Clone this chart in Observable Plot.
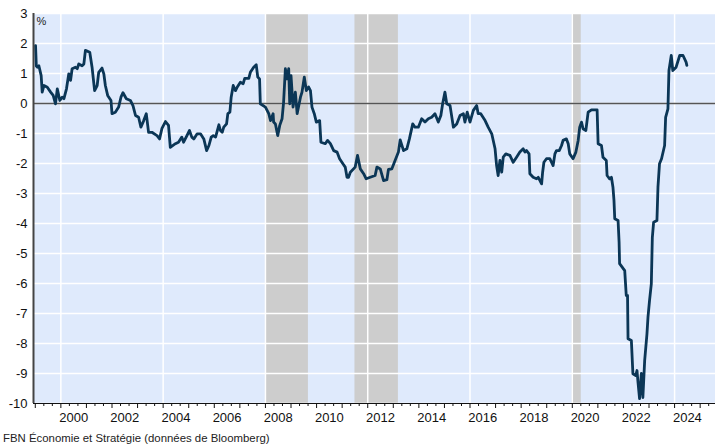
<!DOCTYPE html>
<html>
<head>
<meta charset="utf-8">
<script src="https://cdn.jsdelivr.net/npm/d3@7"></script>
<script src="https://cdn.jsdelivr.net/npm/@observablehq/plot@0.6"></script>
<style>
  html, body { margin: 0; padding: 0; background: #fff; }
  #chart { width: 715px; }
  .caption { font-family: Arial, "Liberation Sans", sans-serif; font-size: 11.4px; line-height: 16px; color: #222; padding-left: 3px; }
</style>
</head>
<body>
<div id="chart"></div>
<div class="caption">FBN Économie et Stratégie (données de Bloomberg)</div>
<script>
const years = [1999.01,1999.04,1999.08,1999.14,1999.23,1999.27,1999.34,1999.47,1999.60,1999.70,1999.79,1999.86,1999.96,2000.05,2000.12,2000.22,2000.31,2000.38,2000.44,2000.57,2000.64,2000.70,2000.83,2000.90,2000.96,2001.13,2001.22,2001.32,2001.42,2001.48,2001.61,2001.68,2001.74,2001.83,2001.96,2002.00,2002.13,2002.26,2002.35,2002.43,2002.56,2002.72,2002.82,2002.92,2003.04,2003.13,2003.24,2003.34,2003.43,2003.56,2003.76,2003.86,2003.95,2004.09,2004.21,2004.28,2004.48,2004.60,2004.73,2004.80,2004.93,2005.03,2005.12,
2005.20,2005.33,2005.46,2005.59,2005.70,2005.79,2005.88,2005.96,2006.05,2006.18,2006.24,2006.31,2006.37,2006.48,2006.53,2006.61,2006.66,2006.74,2006.83,2006.90,2007.02,2007.13,2007.19,2007.35,2007.41,2007.54,2007.64,2007.70,2007.77,2007.80,2008.00,2008.13,2008.20,2008.30,2008.32,2008.39,2008.48,2008.56,2008.65,2008.71,2008.78,2008.85,2008.91,2008.95,2009.00,2009.08,2009.17,2009.24,2009.37,2009.43,2009.52,2009.60,2009.69,2009.76,2009.82,2009.91,2009.99,2010.12,2010.17,2010.34,2010.43,2010.54,2010.67,2010.80,2010.90,2011.03,2011.12,2011.19,
2011.25,2011.32,2011.51,2011.60,2011.71,2011.84,2011.94,2012.10,2012.29,2012.36,2012.49,2012.62,2012.75,2012.81,2012.94,2013.07,2013.20,2013.27,2013.40,2013.53,2013.63,2013.76,2013.85,2013.98,2014.11,2014.24,2014.37,2014.50,2014.63,2014.76,2014.86,2014.93,2015.02,2015.09,2015.22,2015.35,2015.48,2015.61,2015.74,2015.80,2015.89,2016.00,2016.13,2016.26,2016.32,2016.42,2016.59,2016.71,2016.85,2016.98,2017.04,2017.10,2017.17,2017.24,2017.30,2017.40,2017.56,2017.69,2017.82,2017.95,2018.08,2018.15,2018.21,2018.31,2018.34,2018.47,2018.60,2018.67,2018.80,2018.84,2018.89,2018.99,2019.12,2019.25,2019.32,2019.38,2019.49,2019.58,2019.64,2019.77,2019.84,2019.90,2020.03,2020.14,2020.23,2020.29,2020.36,2020.42,2020.53,2020.62,2020.75,2020.97,
2021.01,2021.14,2021.20,2021.33,2021.36,2021.46,2021.53,2021.59,2021.63,2021.66,2021.79,2021.83,2021.85,2022.05,2022.11,2022.16,2022.18,2022.31,2022.37,2022.48,2022.53,2022.57,2022.63,2022.70,2022.76,2022.83,2022.92,2022.96,2023.02,2023.09,2023.13,2023.18,2023.31,2023.35,2023.41,2023.49,2023.61,2023.65,2023.74,2023.78,2023.87,2023.93,2024.06,2024.20,2024.33,2024.45,2024.48];
const values = [1.93,1.25,1.21,1.26,0.93,0.38,0.6,0.54,0.38,0.27,-0.01,0.49,0.1,0.21,0.16,0.49,0.99,0.77,1.16,1.21,1.16,1.32,1.26,1.32,1.77,1.71,1.21,0.43,0.6,1.04,1.18,0.99,0.6,0.27,0.1,-0.34,-0.29,-0.12,0.21,0.36,0.16,0.1,-0.07,-0.4,-0.46,-0.79,-0.57,-0.34,-0.96,-0.96,-1.07,-1.18,-0.84,-0.6,-0.73,-1.46,-1.34,-1.29,-1.12,-1.29,-1.07,-0.9,-1.12,
-1.18,-1.01,-1.01,-1.18,-1.57,-1.4,-1.12,-1.07,-1.12,-0.71,-0.9,-0.96,-0.79,-0.68,-0.34,-0.29,0.21,0.6,0.43,0.55,0.71,0.66,0.84,0.84,1.04,1.21,1.29,0.88,0.82,-0.01,-0.12,-0.34,-0.57,-0.34,-0.62,-0.68,-1.07,-0.73,-0.51,0.04,1.16,0.82,1.16,-0.01,0.93,-0.12,0.38,-0.34,0.21,0.38,0.88,0.43,0.55,0.43,-0.12,-0.34,-0.62,-0.57,-1.29,-1.34,-1.23,-1.34,-1.57,-1.62,-1.84,-2.01,-2.12,-2.46,
-2.46,-2.29,-2.12,-1.73,-2.18,-2.34,-2.51,-2.46,-2.4,-2.12,-2.18,-2.57,-2.54,-2.2,-2.18,-1.9,-1.62,-1.21,-1.57,-1.51,-1.18,-0.68,-0.79,-0.79,-0.51,-0.62,-0.51,-0.46,-0.34,-0.62,-0.4,-0.01,0.38,-0.01,-0.07,-0.79,-0.68,-0.4,-0.34,-0.62,-0.29,-0.62,-0.23,-0.07,-0.34,-0.34,-0.57,-0.79,-1.01,-1.51,-2.07,-2.4,-1.9,-2.29,-1.79,-1.68,-1.73,-1.96,-1.79,-1.62,-1.51,-1.62,-1.57,-1.68,-2.34,-2.46,-2.51,-2.46,-2.68,-2.29,-1.96,-1.84,-1.84,-2.07,-1.68,-1.57,-1.57,-1.4,-1.23,-1.18,-1.34,-1.68,-1.84,-1.62,-1.23,-0.79,-0.62,-0.84,-0.9,-0.29,-0.21,-0.21,
-1.34,-1.4,-1.79,-1.9,-2.4,-2.51,-2.46,-2.79,-3.23,-3.84,-3.9,-4.62,-5.34,-5.57,-6.4,-6.4,-7.84,-7.9,-9.01,-9.07,-8.9,-9.3,-9.84,-9.0,-9.8,-8.57,-7.68,-7.12,-6.57,-6.01,-4.46,-3.96,-3.9,-2.79,-2.01,-1.84,-1.4,-0.46,-0.18,1.1,1.6,1.1,1.21,1.6,1.6,1.38,1.27];

// Recession periods (shaded)
const recStart = [2008.0, 2011.5, 2020.0];
const recEnd   = [2009.68, 2013.2, 2020.35];

// Axis definitions
const yTicks = [3,2,1,0,-1,-2,-3,-4,-5,-6,-7,-8,-9,-10];
const gridYears = [2000,2004,2008,2012,2016,2020,2024];
const labelYears = [2000,2002,2004,2006,2008,2010,2012,2014,2016,2018,2020,2022,2024];
const majorTickYears = d3.range(1999, 2026);
const minorTickYears = d3.range(1999, 2025.6, 1/3).filter(t => Math.abs(t - Math.round(t)) > 0.01);

const series = years.map((y, i) => ({year: y, value: values[i]}));
const recessions = recStart.map((s, i) => ({x1: s, x2: recEnd[i]}));

const font = 'Arial, "Liberation Sans", sans-serif';

const chart = Plot.plot({
  width: 715,
  height: 430,
  marginLeft: 33,
  marginRight: 0,
  marginTop: 13,
  marginBottom: 27,
  style: {fontFamily: font, fontSize: "13px", color: "#111", background: "#fff"},
  x: {domain: [1998.93, 2025.6], axis: null},
  y: {domain: [-10, 3], axis: null},
  marks: [
    Plot.frame({fill: "#dfeafc", stroke: null}),
    Plot.rectX(recessions, {x1: "x1", x2: "x2", fill: "#cdcdcd"}),
    Plot.ruleY(yTicks, {stroke: "#fff", strokeWidth: 1.5}),
    Plot.ruleX(gridYears, {stroke: "#fff", strokeWidth: 1.5}),
    Plot.ruleY([0], {stroke: "#555", strokeWidth: 1.5}),
    Plot.line(series, {x: "year", y: "value", stroke: "#0b3656", strokeWidth: 2.8, strokeLinejoin: "round"}),
    Plot.axisY({ticks: yTicks, tickSize: 0, tickPadding: 6, fontSize: 13, label: null, tickFormat: d => String(d)}),
    Plot.ruleX([1998.93], {stroke: "#444", strokeWidth: 2}),
    Plot.ruleY([-10], {stroke: "#111", strokeWidth: 1}),
    Plot.axisX({ticks: majorTickYears, tickSize: 5, label: null, tickFormat: () => "", stroke: "#111"}),
    Plot.axisX({ticks: minorTickYears, tickSize: 3, label: null, tickFormat: () => "", stroke: "#111"}),
    Plot.axisX({ticks: labelYears.map(y => y + 0.5), tickSize: 0, tickPadding: 9, fontSize: 13, label: null, tickFormat: d => String(Math.floor(d))}),
    Plot.text(["%"], {frameAnchor: "top-left", dx: 3, dy: 4, fontSize: 11, fill: "#222"})
  ]
});
document.getElementById("chart").appendChild(chart);
</script>
</body>
</html>
